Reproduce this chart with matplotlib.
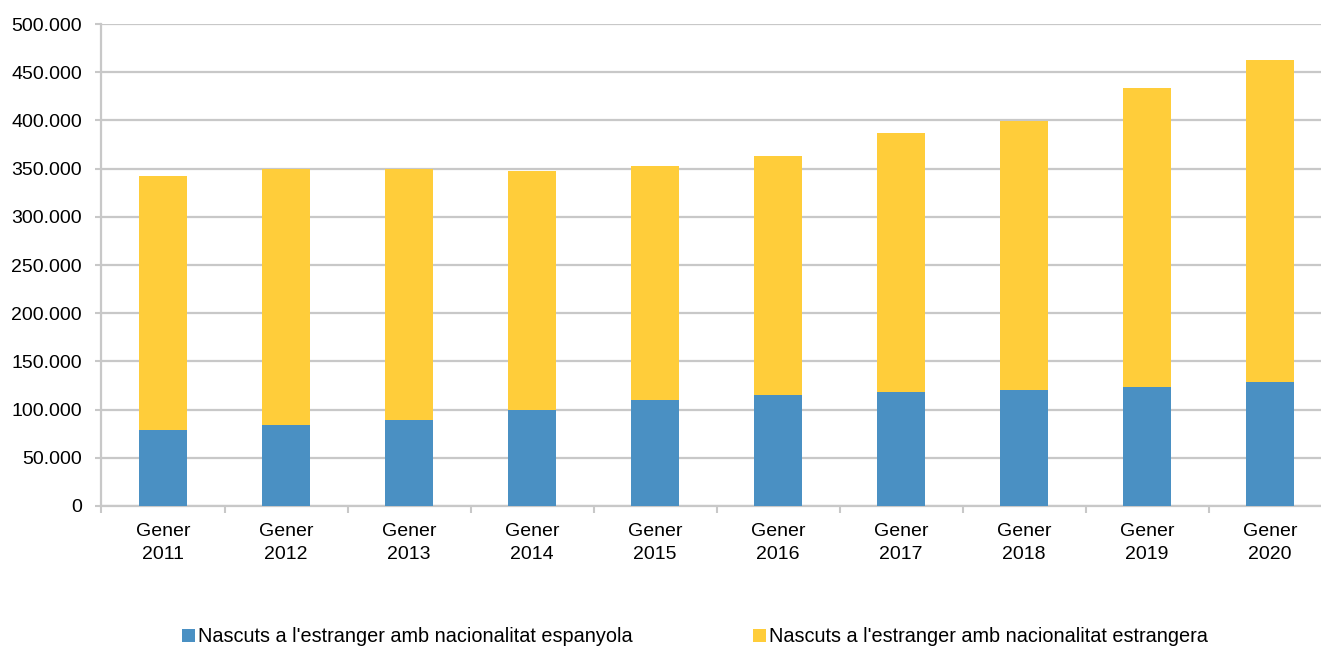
import matplotlib
matplotlib.use("Agg")
import matplotlib.pyplot as plt
import numpy as np
from matplotlib.ticker import FuncFormatter, MultipleLocator

plt.rcParams["font.family"] = ["Liberation Sans", "DejaVu Sans"]

# Population born abroad, by nationality (January of each year)
years = ["2011", "2012", "2013", "2014", "2015", "2016", "2017", "2018", "2019", "2020"]
spanish_nat = [79000, 84000, 89500, 100000, 110000, 115500, 118500, 120500, 123500, 129000]
foreign_nat = [263000, 265500, 260000, 247000, 243000, 247500, 268000, 279000, 310000, 333500]
series_labels = [
    "Nascuts a l'estranger amb nacionalitat espanyola",
    "Nascuts a l'estranger amb nacionalitat estrangera",
]
tick_labels = [f"Gener\n{y}" for y in years]

BLUE = "#4A90C3"
YELLOW = "#FFCD3A"
GRID = "#C8C8C8"

W, H = 1321, 648
fig = plt.figure(figsize=(W / 100, H / 100), dpi=100)
left, right, bottom, top = 101.5, 1331.5, 506, 24
ax = fig.add_axes([left / W, 1 - bottom / H, (right - left) / W, (bottom - top) / H])

x = np.arange(len(years))
width = 0.39
ax.bar(x, spanish_nat, width, color=BLUE, label=series_labels[0], zorder=3)
ax.bar(x, foreign_nat, width, bottom=spanish_nat, color=YELLOW,
       label=series_labels[1], zorder=3)

ax.set_xlim(-0.5, len(years) - 0.5)
ax.set_ylim(0, 500000)
ax.yaxis.set_major_locator(MultipleLocator(50000))
ax.yaxis.set_major_formatter(FuncFormatter(lambda v, p: f"{int(v):,}".replace(",", ".")))
ax.yaxis.grid(True, color=GRID, linewidth=1.6, zorder=0)
ax.set_axisbelow(True)

ax.set_xticks(np.arange(len(years) + 1) - 0.5, minor=False)
ax.set_xticklabels([])
ax.set_xticks(x, minor=True)
ax.set_xticklabels(tick_labels, minor=True, fontsize=14, linespacing=1.45)
ax.tick_params(axis="x", which="major", length=5, width=1.5, color=GRID, direction="out")
ax.tick_params(axis="x", which="minor", length=0, pad=12)
ax.tick_params(axis="y", length=4, width=1.5, color=GRID, labelsize=14, pad=10)

for side in ("top", "right"):
    ax.spines[side].set_visible(False)
for side in ("left", "bottom"):
    ax.spines[side].set_color(GRID)
    ax.spines[side].set_linewidth(1.6)

fig.legend(loc="center", bbox_to_anchor=(695 / W, 1 - 637 / H), ncol=2,
           frameon=False, fontsize=14.3, handlelength=0.62, handleheight=0.62,
           handletextpad=0.15, columnspacing=6.1, borderpad=0)

fig.savefig("out.png", dpi=100)
